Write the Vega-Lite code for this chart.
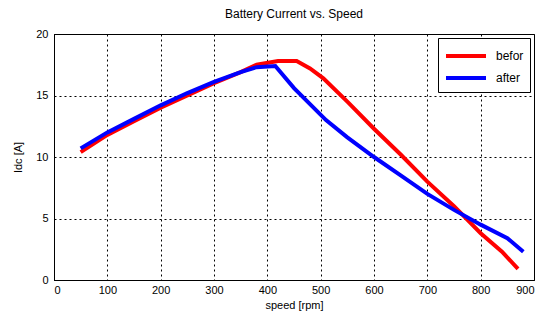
{
  "$schema": "https://vega.github.io/schema/vega-lite/v6.json",
  "width": 480,
  "height": 246,
  "autosize": "none",
  "padding": {"left": 54, "top": 34, "right": 11, "bottom": 40},
  "background": "white",
  "config": {
    "font": "Liberation Sans",
    "view": {"stroke": "#000000", "strokeWidth": 1}
  },
  "title": {"text": "Battery Current vs. Speed", "fontSize": 12, "fontWeight": "normal", "font": "Liberation Sans", "color": "#000000", "offset": 7},
  "data": {"values": [
    {"speed": 50, "current": 10.4, "series": "befor"},
    {"speed": 100, "current": 11.8, "series": "befor"},
    {"speed": 150, "current": 12.9, "series": "befor"},
    {"speed": 200, "current": 14.0, "series": "befor"},
    {"speed": 250, "current": 15.0, "series": "befor"},
    {"speed": 300, "current": 16.0, "series": "befor"},
    {"speed": 350, "current": 16.9, "series": "befor"},
    {"speed": 380, "current": 17.5, "series": "befor"},
    {"speed": 420, "current": 17.8, "series": "befor"},
    {"speed": 455, "current": 17.8, "series": "befor"},
    {"speed": 480, "current": 17.2, "series": "befor"},
    {"speed": 505, "current": 16.4, "series": "befor"},
    {"speed": 550, "current": 14.5, "series": "befor"},
    {"speed": 600, "current": 12.3, "series": "befor"},
    {"speed": 650, "current": 10.2, "series": "befor"},
    {"speed": 700, "current": 8.0, "series": "befor"},
    {"speed": 750, "current": 6.0, "series": "befor"},
    {"speed": 800, "current": 3.8, "series": "befor"},
    {"speed": 840, "current": 2.3, "series": "befor"},
    {"speed": 870, "current": 0.9, "series": "befor"},
    {"speed": 50, "current": 10.7, "series": "after"},
    {"speed": 100, "current": 12.0, "series": "after"},
    {"speed": 150, "current": 13.1, "series": "after"},
    {"speed": 200, "current": 14.2, "series": "after"},
    {"speed": 250, "current": 15.2, "series": "after"},
    {"speed": 300, "current": 16.1, "series": "after"},
    {"speed": 350, "current": 16.9, "series": "after"},
    {"speed": 380, "current": 17.3, "series": "after"},
    {"speed": 415, "current": 17.4, "series": "after"},
    {"speed": 450, "current": 15.6, "series": "after"},
    {"speed": 510, "current": 13.0, "series": "after"},
    {"speed": 550, "current": 11.6, "series": "after"},
    {"speed": 600, "current": 10.0, "series": "after"},
    {"speed": 650, "current": 8.5, "series": "after"},
    {"speed": 700, "current": 7.0, "series": "after"},
    {"speed": 750, "current": 5.7, "series": "after"},
    {"speed": 800, "current": 4.5, "series": "after"},
    {"speed": 850, "current": 3.4, "series": "after"},
    {"speed": 880, "current": 2.3, "series": "after"}
  ]},
  "mark": {"type": "line", "strokeWidth": 4, "clip": true},
  "encoding": {
    "x": {
      "field": "speed", "type": "quantitative",
      "scale": {"domain": [0, 900], "nice": false, "zero": false},
      "axis": {"title": "speed [rpm]", "values": [0,100,200,300,400,500,600,700,800,900], "grid": true, "gridColor": "#000000", "gridDash": [2, 3], "gridOpacity": 1, "gridWidth": 1, "domainColor": "#000000", "ticks": false, "labelColor": "#000000", "labelFontSize": 11, "titleFontSize": 11, "titleFontWeight": "normal", "titleColor": "#000000", "labelPadding": 4, "titlePadding": 4}
    },
    "y": {
      "field": "current", "type": "quantitative",
      "scale": {"domain": [0, 20], "nice": false},
      "axis": {"title": "Idc [A]", "values": [0,5,10,15,20], "grid": true, "gridColor": "#000000", "gridDash": [2, 3], "gridOpacity": 1, "gridWidth": 1, "domainColor": "#000000", "ticks": false, "labelColor": "#000000", "labelFontSize": 11, "titleFontSize": 11, "titleFontWeight": "normal", "titleColor": "#000000", "labelPadding": 6, "titlePadding": 12}
    },
    "color": {
      "field": "series", "type": "nominal",
      "scale": {"domain": ["befor", "after"], "range": ["#ff0000", "#0000ff"]},
      "legend": {"title": null, "orient": "top-right", "offset": 4, "symbolType": "M-1,0H3", "symbolStrokeWidth": 4, "symbolSize": 400, "strokeColor": "#000000", "fillColor": "#ffffff", "padding": 6, "labelFontSize": 12, "labelColor": "#000000", "rowPadding": 2, "labelOffset": 28}
    }
  }
}
